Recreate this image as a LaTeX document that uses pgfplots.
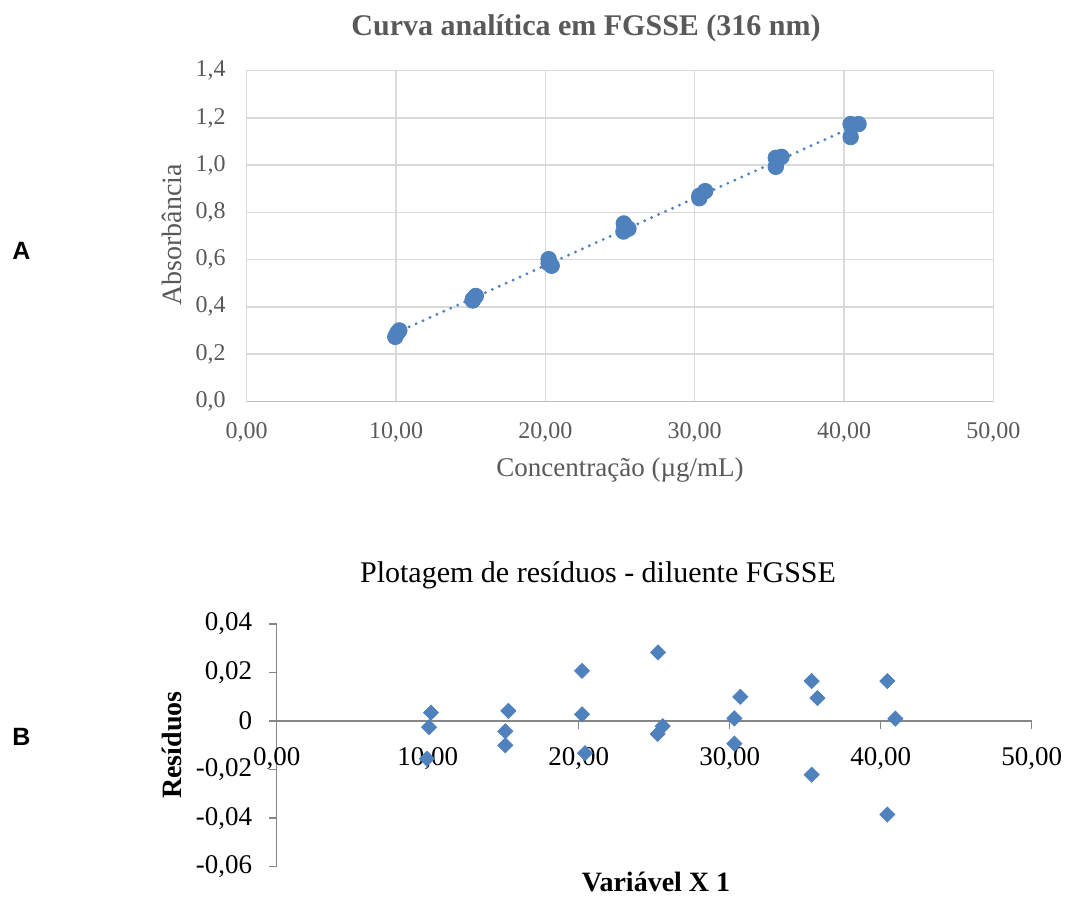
\documentclass[border=0pt]{standalone}
\usepackage{fontspec}
\setmainfont{Liberation Serif}
\newfontfamily\arialbf{Liberation Sans}[BoldFont=* Bold]
\usepackage{pgfplots}
\pgfplotsset{compat=1.18}
\definecolor{ptblue}{RGB}{79,129,189}
\definecolor{txtgray}{RGB}{89,89,89}
\definecolor{gridgray}{RGB}{217,217,217}
\definecolor{basegray}{RGB}{191,191,191}
\definecolor{axgray}{RGB}{134,134,134}

% concentration vs absorbance
\pgfplotstableread{
x y
10.22 0.300
10.09 0.290
9.95 0.273
15.34 0.446
15.14 0.432
15.14 0.427
20.22 0.602
20.22 0.584
20.42 0.574
25.25 0.753
25.56 0.731
25.23 0.719
30.70 0.890
30.31 0.870
30.31 0.860
35.43 1.031
35.81 1.035
35.43 0.993
40.44 1.174
40.97 1.174
40.44 1.119
}\curva

% residuals
\pgfplotstableread{
x r
10.22 0.0035
10.09 -0.0025
9.95 -0.0155
15.34 0.0042
15.14 -0.0042
15.14 -0.0100
20.22 0.0207
20.22 0.0028
20.42 -0.0132
25.25 0.0283
25.56 -0.0021
25.23 -0.0053
30.70 0.0100
30.31 0.0011
30.31 -0.0093
35.43 0.0165
35.81 0.0095
35.43 -0.0221
40.44 0.0165
40.97 0.0010
40.44 -0.0385
}\residuos

\begin{document}
\begin{tikzpicture}[x=1pt,y=1pt]
\useasboundingbox (0,0) rectangle (535,451);

\begin{axis}[at={(123.35pt,250.35pt)}, anchor=south west, scale only axis,
  width=373.35pt, height=165.3pt,
  xmin=0, xmax=50, ymin=0, ymax=1.4,
  xtick={0,10,20,30,40,50},
  xticklabels={{0,00},{10,00},{20,00},{30,00},{40,00},{50,00}},
  ytick={0,0.2,0.4,0.6,0.8,1.0,1.2,1.4},
  yticklabels={{0,0},{0,2},{0,4},{0,6},{0,8},{1,0},{1,2},{1,4}},
  grid=major, major grid style={gridgray, line width=0.75pt},
  axis line style={gridgray, line width=0.75pt},
  major tick length=0pt,
  ticklabel style={font=\fontsize{12}{14}\selectfont, text=txtgray},
  xticklabel style={yshift=-7pt},
  yticklabel style={xshift=-7pt},
  clip=false]
  \draw[basegray, line width=0.75pt] (rel axis cs:0,0) -- (rel axis cs:1,0);
  \addplot[only marks, mark=*, mark size=3.9pt, ptblue,
    mark options={draw=ptblue, fill=ptblue}] table[x=x, y=y] {\curva};
  \addplot[ptblue, line width=1.6pt, dash pattern=on 0pt off 3.8pt, line cap=round]
    coordinates {(9.95,0.2886) (40.97,1.1727)};
\end{axis}

\begin{axis}[at={(138.35pt,17.65pt)}, anchor=south west, scale only axis,
  width=377.5pt, height=121.35pt,
  xmin=0, xmax=50, ymin=-0.06, ymax=0.04,
  axis x line=middle, axis y line=left,
  axis line style={-, axgray, line width=0.75pt},
  scaled y ticks=false, scaled x ticks=false,
  xtick={0,10,20,30,40,50},
  xticklabels={{0,00},{10,00},{20,00},{30,00},{40,00},{50,00}},
  ytick={-0.06,-0.04,-0.02,0,0.02,0.04},
  yticklabels={{-0,06},{-0,04},{-0,02},{0},{0,02},{0,04}},
  tick align=outside, major tick length=3.8pt,
  tick style={axgray, line width=0.75pt},
  hide obscured x ticks=false, hide obscured y ticks=false,
  ticklabel style={font=\fontsize{13.5}{16}\selectfont, text=black},
  xticklabel style={yshift=-6pt},
  yticklabel style={xshift=-5pt},
  clip=false]
  \addplot[only marks, mark=square*, mark size=2.65pt, ptblue,
    mark options={rotate=45, draw=ptblue, fill=ptblue}] table[x=x, y=r] {\residuos};
\end{axis}

% titles and axis labels
\node[font=\fontsize{15}{18}\selectfont\bfseries, text=txtgray] at (293,437) {Curva analítica em FGSSE (316 nm)};
\node[font=\fontsize{14}{17}\selectfont, text=txtgray, rotate=90] at (86,333.5) {Absorbância};
\node[font=\fontsize{13.5}{16}\selectfont, text=txtgray] at (310,216) {Concentração (µg/mL)};
\node[font=\fontsize{15}{18}\selectfont] at (299,163.5) {Plotagem de resíduos - diluente FGSSE};
\node[font=\fontsize{14}{17}\selectfont\bfseries, rotate=90] at (86,78.5) {Resíduos};
\node[font=\fontsize{14}{17}\selectfont\bfseries] at (328,10) {Variável X 1};
\node[font=\arialbf\fontsize{12.5}{15}\selectfont\bfseries] at (10.75,325.5) {A};
\node[font=\arialbf\fontsize{12.5}{15}\selectfont\bfseries] at (10.75,82.5) {B};
\end{tikzpicture}
\end{document}
